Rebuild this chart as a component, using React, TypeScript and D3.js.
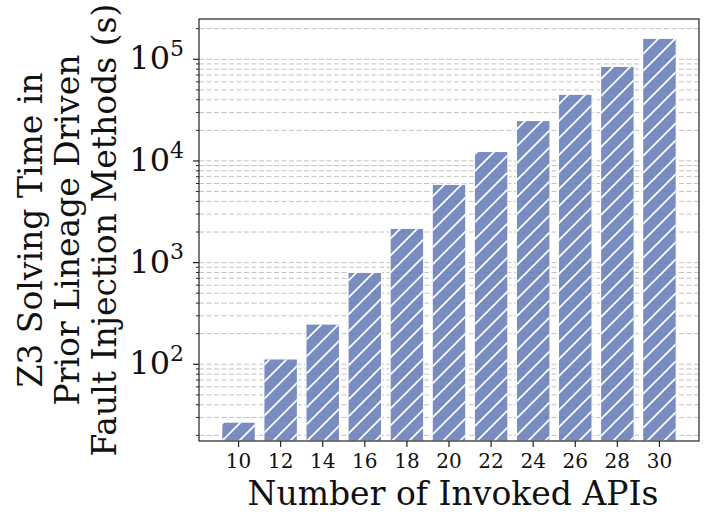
import React from "react";
import * as d3 from "d3";

const categories = ["10", "12", "14", "16", "18", "20", "22", "24", "26", "28", "30"];
const solveTimes = [27, 113, 249, 803, 2175, 5890, 12400, 25000, 45300, 85300, 161000];
const majorTicks = [100, 1000, 10000, 100000];
const majorExponents = ["2", "3", "4", "5"];
const yTitleLines = ["Z3 Solving Time in", "Prior Lineage Driven", "Fault Injection Methods (s)"];
const xTitle = "Number of Invoked APIs";

const W = 718;
const H = 530;
const left = 199;
const right = 699;
const top = 19;
const bottom = 441;

export default function App() {
  const x = d3.scaleLinear().domain([-0.94, categories.length - 1 + 0.94]).range([left, right]);
  const y = d3.scaleLog().domain([17.6, 249000]).range([bottom, top]);
  const barW = x(0.8) - x(0);

  const minor: number[] = [];
  for (let e = 1; e <= 5; e++) {
    for (let m = 2; m <= 9; m++) {
      const v = m * Math.pow(10, e);
      if (v >= 17.6 && v <= 249000) minor.push(v);
    }
  }
  const gridVals = [...minor, ...majorTicks];
  const serif = "'DejaVu Serif', serif";

  return (
    <svg width={W} height={H} style={{ position: "absolute", left: 0, top: 0, background: "#fff" }}>
      <defs>
        <pattern id="hatch" patternUnits="userSpaceOnUse" width={17} height={17}>
          <path
            d="M0,17 L17,0 M-4.25,4.25 L4.25,-4.25 M12.75,21.25 L21.25,12.75"
            stroke="#fff"
            strokeWidth={1.7}
          />
        </pattern>
        <clipPath id="plotclip">
          <rect x={left} y={top} width={right - left} height={bottom - top} />
        </clipPath>
      </defs>
      <rect width={W} height={H} fill="#fff" />
      {/* grid */}
      <g>
        {gridVals.map((v, i) => (
          <line
            key={i}
            x1={left}
            x2={right}
            y1={y(v)}
            y2={y(v)}
            stroke="#b8b8b8"
            strokeWidth={1}
            strokeDasharray="5,2.5"
            opacity={0.85}
          />
        ))}
      </g>
      {/* bars */}
      <g clipPath="url(#plotclip)">
        {solveTimes.map((v, i) => {
          const bx = x(i) - barW / 2;
          const by = y(v);
          return (
            <g key={i}>
              <rect x={bx} y={by} width={barW} height={bottom - by} fill="#6379b6" fillOpacity={0.85} stroke="#fff" strokeWidth={1.2} />
              <rect x={bx + 0.6} y={by + 0.6} width={barW - 1.2} height={bottom - by - 0.6} fill="url(#hatch)" />
            </g>
          );
        })}
      </g>
      {/* frame */}
      <rect x={left} y={top} width={right - left} height={bottom - top} fill="none" stroke="#222" strokeWidth={1.2} />
      {/* y ticks */}
      {minor.map((v, i) => (
        <line key={"m" + i} x1={left - 3} x2={left} y1={y(v)} y2={y(v)} stroke="#222" strokeWidth={1} />
      ))}
      {majorTicks.map((v, i) => (
        <g key={"M" + i}>
          <line x1={left - 6} x2={left} y1={y(v)} y2={y(v)} stroke="#222" strokeWidth={1.2} />
          <text x={184} y={y(v) + 10} textAnchor="end" fontFamily={serif} fontSize={32} fill="#111">
            <tspan>10</tspan>
            <tspan fontSize={22} dy={-13.4}>{majorExponents[i]}</tspan>
          </text>
        </g>
      ))}
      {/* x ticks */}
      {categories.map((c, i) => (
        <g key={"x" + i}>
          <line x1={x(i)} x2={x(i)} y1={bottom} y2={bottom + 6} stroke="#222" strokeWidth={1.2} />
          <text x={x(i)} y={467.5} textAnchor="middle" fontFamily={serif} fontSize={20} fill="#111">
            {c}
          </text>
        </g>
      ))}
      {/* x title */}
      <text x={(left + right) / 2 + 4} y={505} textAnchor="middle" fontFamily={serif} fontSize={33} fill="#111">
        {xTitle}
      </text>
      {/* y title */}
      <g transform={`translate(0, ${(top + bottom) / 2}) rotate(-90)`}>
        {yTitleLines.map((t, i) => (
          <text key={i} x={0} y={41.5 + i * 37} textAnchor="middle" fontFamily={serif} fontSize={33} fill="#111">
            {t}
          </text>
        ))}
      </g>
    </svg>
  );
}
